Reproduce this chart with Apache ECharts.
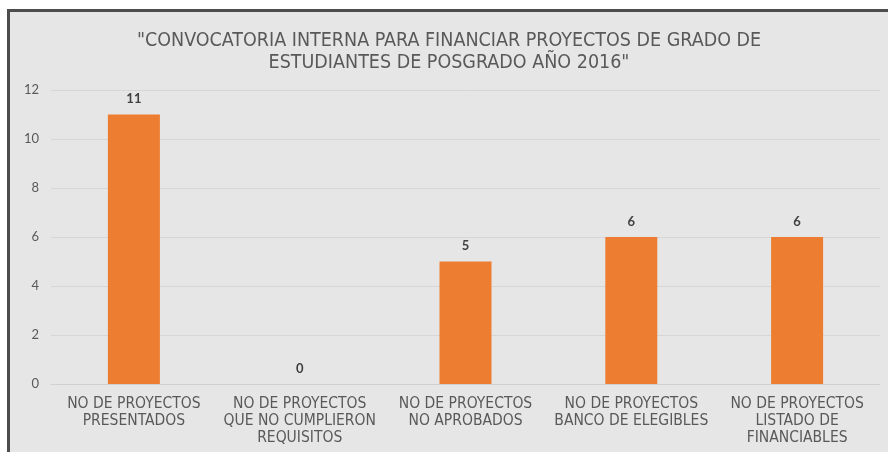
<!DOCTYPE html>
<html>
<head>
<meta charset="utf-8">
<script src="https://cdn.jsdelivr.net/npm/echarts@6/dist/echarts.min.js"></script>
<style>
  html, body { margin: 0; padding: 0; background: #fff; }
  #frame { position: absolute; left: 7px; top: 9px; width: 881px; height: 443px;
           border-left: 3px solid #4d4d4d; border-top: 3px solid #4d4d4d; }
  #main { width: 878px; height: 440px; }
</style>
</head>
<body>
<div id="frame"><div id="main"></div></div>
<script>
// categorias y valores de la convocatoria
var categorias = [
  'NO DE PROYECTOS\nPRESENTADOS',
  'NO DE PROYECTOS\nQUE NO CUMPLIERON\nREQUISITOS',
  'NO DE PROYECTOS\nNO APROBADOS',
  'NO DE PROYECTOS\nBANCO DE ELEGIBLES',
  'NO DE PROYECTOS\nLISTADO DE\nFINANCIABLES'
];
var valores = [11, 0, 5, 6, 6];
var titulo = '"CONVOCATORIA INTERNA PARA FINANCIAR PROYECTOS DE GRADO DE\nESTUDIANTES DE POSGRADO AÑO 2016"';

var fuente = '"DejaVu Sans Condensed", sans-serif';
var myChart = echarts.init(document.getElementById('main'));

var option = {
    backgroundColor: '#e6e6e6',
    title: {
        text: titulo,
        left: 'center',
        top: 13,
        textStyle: { color: '#595959', fontSize: 19.5, fontWeight: 'normal', fontFamily: fuente, lineHeight: 22 }
    },
    grid: { left: 41, right: 8, top: 78, bottom: 68 },
    xAxis: {
        type: 'category',
        data: categorias,
        axisLine: { lineStyle: { color: '#d0d0d0' } },
        axisTick: { show: false },
        axisLabel: { color: '#595959', fontSize: 15.5, fontFamily: fuente, lineHeight: 17, margin: 11, interval: 0 }
    },
    yAxis: {
        type: 'value',
        min: 0,
        max: 12,
        interval: 2,
        axisLine: { show: false },
        axisTick: { show: false },
        splitLine: { lineStyle: { color: '#d6d6d6' } },
        axisLabel: { color: '#595959', fontSize: 13, fontFamily: 'Lato, sans-serif', margin: 12 }
    },
    series: [
        {
            type: 'bar',
            data: valores,
            barWidth: 52,
            itemStyle: { color: '#ed7d31' },
            label: { show: true, position: 'top', distance: 9, color: '#404040', fontSize: 13, fontWeight: 'bold', fontFamily: 'Lato, sans-serif' }
        }
    ]
};

myChart.setOption(option);
</script>
</body>
</html>
